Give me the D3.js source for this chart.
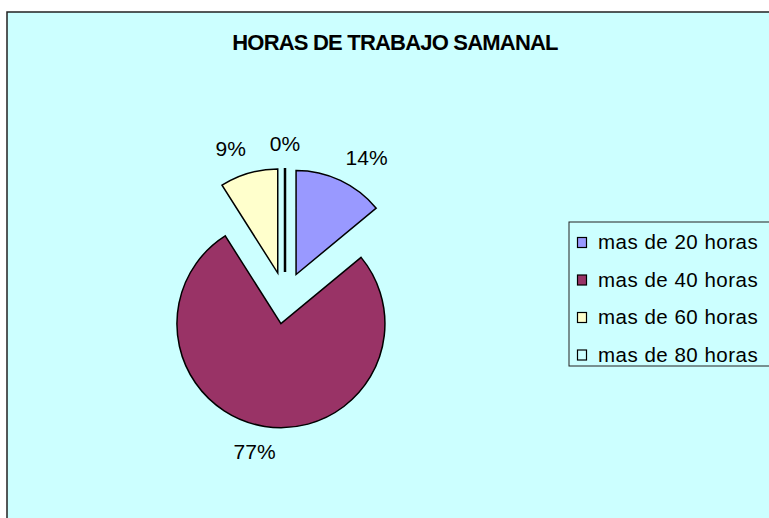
<!DOCTYPE html>
<html>
<head>
<meta charset="utf-8">
<script src="https://cdn.jsdelivr.net/npm/d3@7"></script>
<style>
body { margin: 0; background: #fff; }
text { font-family: "Liberation Sans", Arial, sans-serif; fill: #000; }
</style>
</head>
<body>
<script>
var categories = ["mas de 20 horas", "mas de 40 horas", "mas de 60 horas", "mas de 80 horas"];
var values = [14, 77, 9, 0];
var colors = ["#9999FF", "#993366", "#FFFFCC", "#CCFFFF"];
var title = "HORAS DE TRABAJO SAMANAL";

var W = 769, H = 518;
var svg = d3.select("body").append("svg")
  .attr("width", W)
  .attr("height", H);

// chart area (cut off right and bottom, like the picture)
svg.append("rect")
  .attr("x", 7).attr("y", 12)
  .attr("width", 790).attr("height", 540)
  .attr("fill", "#CCFFFF")
  .attr("stroke", "#222")
  .attr("stroke-width", 1.5);

svg.append("text")
  .attr("x", 395).attr("y", 50)
  .attr("text-anchor", "middle")
  .style("font-size", "22px")
  .style("font-weight", "bold")
  .style("letter-spacing", "-0.8px")
  .text(title);

var cx = 285, cy = 298, r = 104, explode = 26, labelR = 147;

var pie = d3.pie().sort(null).value(function(d) { return d; });
var arc = d3.arc().innerRadius(0).outerRadius(r);
var arcs = pie(values);

var g = svg.append("g").attr("transform", "translate(" + cx + "," + cy + ")");

g.selectAll("path")
  .data(arcs)
  .enter().append("path")
  .attr("transform", function(d) {
    var a = (d.startAngle + d.endAngle) / 2;
    return "translate(" + explode * Math.sin(a) + "," + (-explode * Math.cos(a)) + ")";
  })
  .attr("d", arc)
  .attr("fill", function(d, i) { return colors[i]; })
  .attr("stroke", "#000")
  .attr("stroke-width", function(d) { return d.value === 0 ? 2.5 : 1.5; });

// labels: box pushed outward from a point on the bisector
var lw = 38, lh = 16;
function clamp(v) { return Math.max(-1, Math.min(1, v)); }
g.selectAll("text.lbl")
  .data(arcs)
  .enter().append("text")
  .attr("class", "lbl")
  .attr("x", function(d) {
    var a = (d.startAngle + d.endAngle) / 2;
    return labelR * Math.sin(a) + lw / 2 * clamp(2.5 * Math.sin(a));
  })
  .attr("y", function(d) {
    var a = (d.startAngle + d.endAngle) / 2;
    return -labelR * Math.cos(a) - lh / 2 * clamp(2.5 * Math.cos(a));
  })
  .attr("text-anchor", "middle")
  .attr("dominant-baseline", "central")
  .style("font-size", "21px")
  .text(function(d) { return d.value + "%"; });

// legend
var legend = svg.append("g");
legend.append("rect")
  .attr("x", 569).attr("y", 222)
  .attr("width", 220).attr("height", 144)
  .attr("fill", "#CCFFFF")
  .attr("stroke", "#222")
  .attr("stroke-width", 1);

var y = d3.scalePoint().domain(categories).range([242.5, 355]);

var items = legend.selectAll("g.item")
  .data(categories)
  .enter().append("g")
  .attr("class", "item")
  .attr("transform", function(d) { return "translate(0," + y(d) + ")"; });

items.append("rect")
  .attr("x", 577.5).attr("y", -5)
  .attr("width", 9).attr("height", 10)
  .attr("fill", function(d, i) { return colors[i]; })
  .attr("stroke", "#000")
  .attr("stroke-width", 1.2);

items.append("text")
  .attr("x", 598).attr("y", 6.5)
  .style("font-size", "20.5px")
  .style("letter-spacing", "0.5px")
  .text(function(d) { return d; });
</script>
</body>
</html>
